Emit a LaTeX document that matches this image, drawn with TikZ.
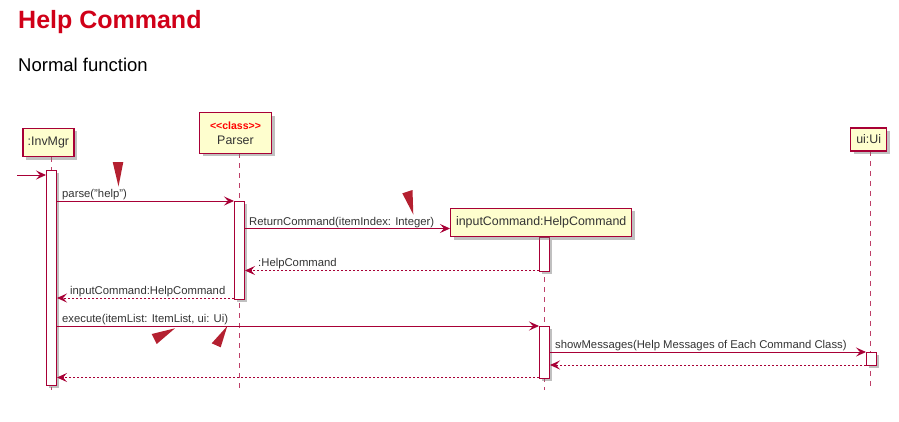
\documentclass[tikz,border=0pt]{standalone}
\usepackage{fontspec}
\setmainfont{Liberation Sans}
\usetikzlibrary{arrows.meta,shadows}
\definecolor{umlred}{HTML}{A80036}
\definecolor{umlfill}{HTML}{FEFECE}
\definecolor{titlered}{RGB}{208,0,24}
\definecolor{marker}{RGB}{180,32,48}
\definecolor{txt}{HTML}{333333}
\tikzset{
  participant/.style={draw=umlred,line width=1.4pt,fill=umlfill,inner sep=0pt,
    align=center,text=txt,font=\fontsize{12.4}{14}\selectfont,
    drop shadow={shadow xshift=3pt,shadow yshift=-3pt,opacity=0.45,fill=black!55}},
  activation/.style={draw=umlred,line width=1pt,fill=white,inner sep=0pt,
    minimum width=10pt,anchor=north west,
    drop shadow={shadow xshift=2.5pt,shadow yshift=-2.5pt,opacity=0.45,fill=black!55}},
  lifeline/.style={draw=umlred!75,line width=0.8pt,dash pattern=on 5pt off 5pt},
  msg/.style={draw=umlred,line width=0.9pt,-{Stealth[length=10pt,width=9pt,inset=4pt]}},
  reply/.style={msg,dash pattern=on 2pt off 2pt},
  msglabel/.style={anchor=base west,inner sep=0pt,text=txt,font=\fontsize{11.3}{13}\selectfont},
  markertri/.style={fill=marker,draw=none},
}
\begin{document}
\begin{tikzpicture}[x=1pt,y=-1pt]
\path[use as bounding box] (0,0) rectangle (899,421);
% titles
\node[anchor=base west,inner sep=0pt,text=titlered,font=\fontsize{25}{30}\selectfont\bfseries] (title) at (18,28.3) {Help Command};
\node[anchor=base west,inner sep=0pt,font=\fontsize{18.5}{22}\selectfont] (subtitle) at (18,71.7) {Normal function};

% lifelines (drawn first)
\coordinate (l1top) at (51,157);
\coordinate (l1bot) at (51,390);
\coordinate (l2top) at (239,153);
\coordinate (l2bot) at (239,390);
\coordinate (l3top) at (544,237);
\coordinate (l3bot) at (544,390);
\coordinate (l4top) at (870,151);
\coordinate (l4bot) at (870,390);
\draw[lifeline] (l1top) -- (l1bot);
\draw[lifeline] (l2top) -- (l2bot);
\draw[lifeline] (l3top) -- (l3bot);
\draw[lifeline] (l4top) -- (l4bot);

% participants
\node[participant,minimum width=51pt,minimum height=28.5pt] (invmgr) at (48.4,142.5) {:InvMgr};
\node[participant,minimum width=72pt,minimum height=40.5pt] (parser) at (235.5,133)
  {{\color{red}\fontsize{10.5}{12}\selectfont\bfseries <{}<class>{}>}\\[1pt]Parser};
\node[participant,minimum width=36pt,minimum height=23pt] (ui) at (868.7,139.5) {ui:Ui};

% activations
\node[activation,minimum height=215pt] (a1) at (46,170) {};
\node[activation,minimum height=97.5pt] (a2) at (234,201) {};
\node[activation,minimum height=33.5pt] (a3) at (539,237) {};
\node[activation,minimum height=52pt] (a4) at (539,326) {};
\node[activation,minimum height=13pt] (a5) at (866,352) {};

\node[participant,minimum width=181pt,minimum height=28.5pt] (hc) at (541.2,222.5) {inputCommand:HelpCommand};

% messages
\coordinate (start) at (17,175);
\draw[msg] (start) -- (a1.west |- start);

\draw[msg] (a1.east |- 0,201) -- (a2.west |- 0,201);
\node[msglabel] (m1) at (62,197.5) {parse("help")};

\draw[msg] (a2.east |- 0,228.5) -- (hc.west |- 0,228.5);
\node[msglabel] (m2) at (249,225) {ReturnCommand(itemIndex: Integer)};

\draw[reply] (a3.west |- 0,270.5) -- (a2.east |- 0,270.5);
\node[msglabel] (m3) at (258,266.5) {:HelpCommand};

\draw[reply] (a2.west |- 0,298) -- (a1.east |- 0,298);
\node[msglabel] (m4) at (70,294) {inputCommand:HelpCommand};

\draw[msg] (a1.east |- 0,326) -- (a4.west |- 0,326);
\node[msglabel] (m5) at (62,322) {execute(itemList: ItemList, ui: Ui)};

\draw[msg] (a4.east |- 0,352) -- (a5.west |- 0,352);
\node[msglabel] (m6) at (555,348) {showMessages(Help Messages of Each Command Class)};

\draw[reply] (a5.west |- 0,365) -- (a4.east |- 0,365);
\draw[reply] (a4.west |- 0,377.5) -- (a1.east |- 0,377.5);

% red triangle markers
\fill[markertri] (112.7,162) -- (123.3,162) -- (118.5,186.5) -- cycle;
\fill[markertri] (402.3,193.3) -- (412.5,190) -- (413.3,214.5) -- cycle;
\fill[markertri] (175,328.3) -- (151.7,334) -- (156.7,344) -- cycle;
\fill[markertri] (227.3,326) -- (211.7,343.3) -- (220.7,347.3) -- cycle;
\end{tikzpicture}
\end{document}
